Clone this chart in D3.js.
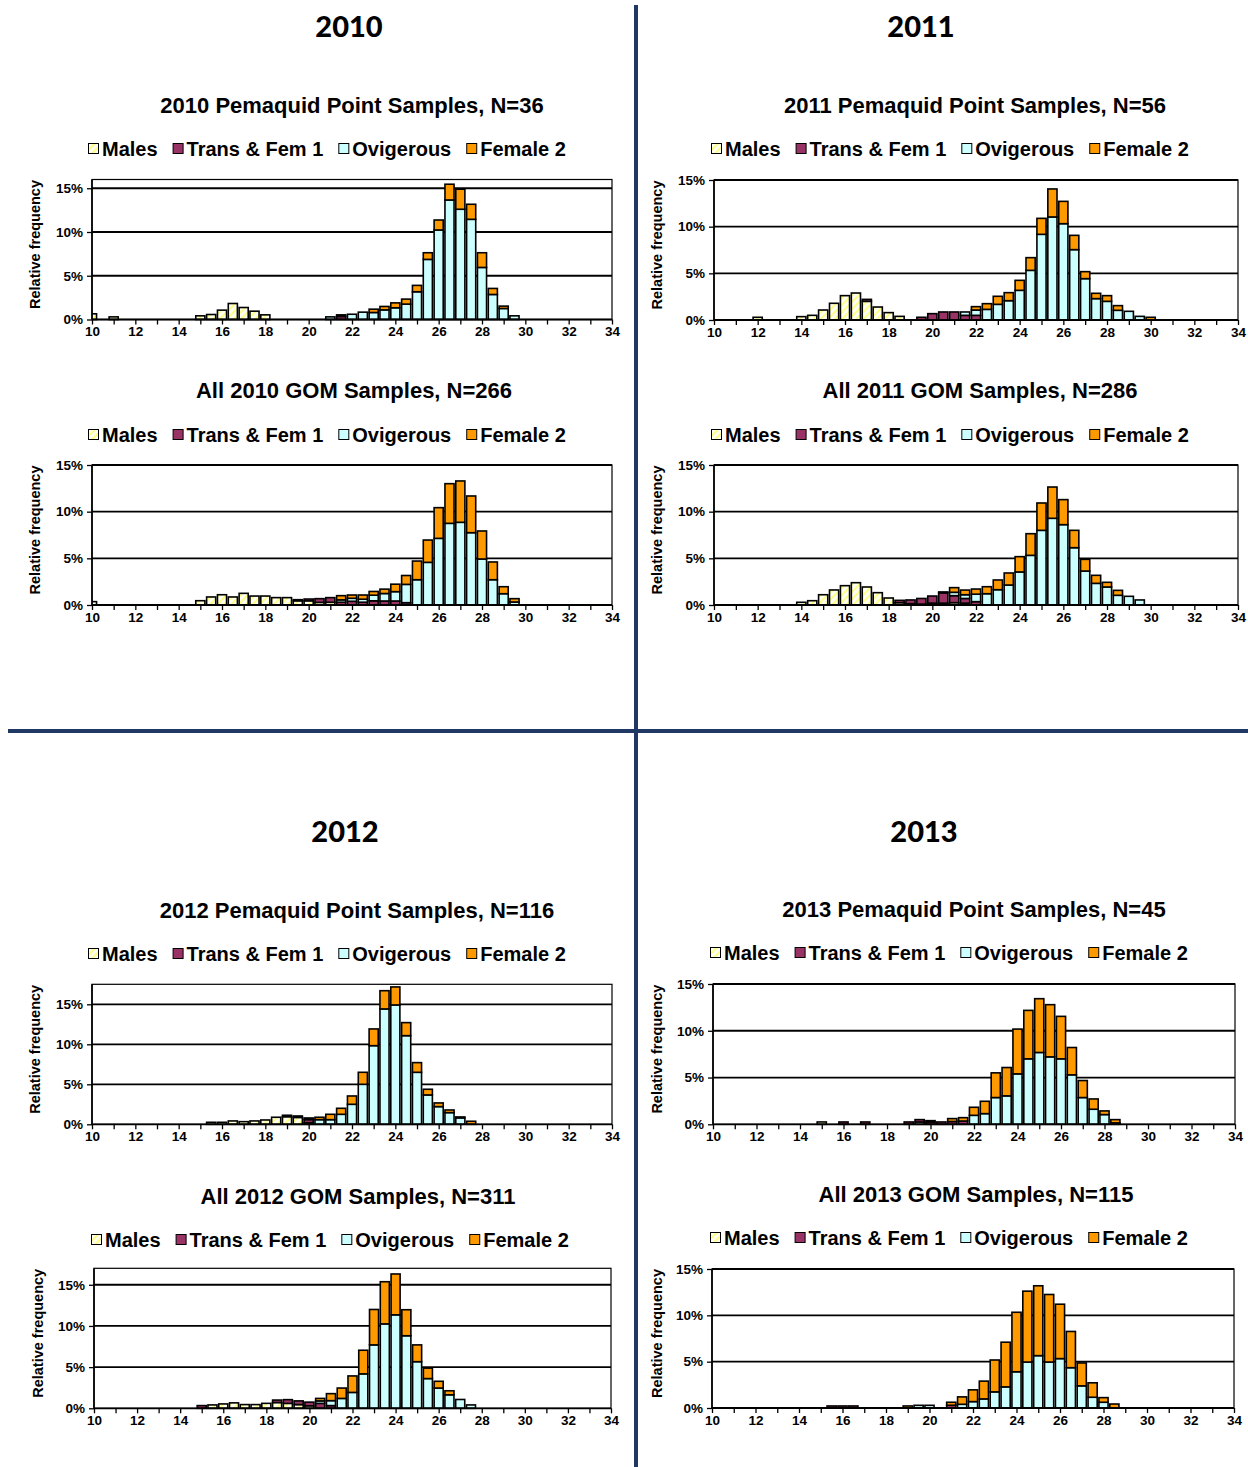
<!DOCTYPE html>
<html>
<head>
<meta charset="utf-8">
<script src="https://cdn.jsdelivr.net/npm/d3@7"></script>
<style>
  body { margin: 0; background: #fff; }
  svg { display: block; }
</style>
</head>
<body>
<svg id="fig" width="1248" height="1467"></svg>
<script>
// Carapace-length bins (mm) with relative frequency (%) per stage:
// each row is [length, Males, Trans & Fem 1, Ovigerous, Female 2]
const seriesNames = ["Males", "Trans & Fem 1", "Ovigerous", "Female 2"];
const xTickLabels = [10, 12, 14, 16, 18, 20, 22, 24, 26, 28, 30, 32, 34];
const yTickValues = [0, 5, 10, 15];
const yearLabels = ["2010", "2011", "2012", "2013"];

const pp2010 = [
  [10, 0.65, 0, 0, 0], [11, 0.3, 0, 0, 0],
  [15, 0.42, 0, 0, 0], [15.5, 0.57, 0, 0, 0], [16, 1.07, 0, 0, 0], [16.5, 1.83, 0, 0, 0],
  [17, 1.37, 0, 0, 0], [17.5, 0.95, 0, 0, 0], [18, 0.53, 0, 0, 0],
  [21, 0, 0, 0.3, 0], [21.5, 0, 0.35, 0.18, 0], [22, 0, 0, 0.6, 0], [22.5, 0, 0, 0.84, 0],
  [23, 0, 0, 0.8, 0.38], [23.5, 0, 0, 1.1, 0.39], [24, 0, 0, 1.34, 0.56], [24.5, 0, 0, 1.76, 0.57],
  [25, 0, 0, 3.17, 0.73], [25.5, 0, 0, 6.87, 0.76], [26, 0, 0, 10.23, 1.14], [26.5, 0, 0, 13.66, 1.8],
  [27, 0, 0, 12.6, 2.29], [27.5, 0, 0, 11.45, 1.72], [28, 0, 0, 5.95, 1.68], [28.5, 0, 0, 2.86, 0.69],
  [29, 0, 0, 1.26, 0.27], [29.5, 0, 0, 0.42, 0]
];

const gom2010 = [
  [10, 0.36, 0, 0, 0],
  [15, 0.46, 0, 0, 0], [15.5, 0.86, 0, 0, 0], [16, 1.1, 0, 0, 0], [16.5, 0.86, 0, 0, 0],
  [17, 1.25, 0, 0, 0], [17.5, 0.96, 0, 0, 0], [18, 0.96, 0, 0, 0], [18.5, 0.79, 0, 0, 0],
  [19, 0.79, 0, 0, 0], [19.5, 0.45, 0.12, 0, 0], [20, 0.45, 0.19, 0, 0], [20.5, 0.28, 0.4, 0, 0],
  [21, 0.29, 0.5, 0, 0], [21.5, 0, 0.3, 0.25, 0.45], [22, 0, 0.4, 0.32, 0.35], [22.5, 0, 0.3, 0.32, 0.45],
  [23, 0, 0.45, 0.6, 0.4], [23.5, 0, 0.43, 0.8, 0.47], [24, 0, 0.43, 1.0, 0.8], [24.5, 0, 0.25, 1.96, 0.95],
  [25, 0, 0, 2.71, 2.0], [25.5, 0, 0, 4.57, 2.39], [26, 0, 0, 7.14, 3.29], [26.5, 0, 0, 8.75, 4.25],
  [27, 0, 0, 8.86, 4.43], [27.5, 0, 0, 7.75, 3.93], [28, 0, 0, 4.93, 3.0], [28.5, 0, 0, 2.71, 1.9],
  [29, 0, 0, 1.21, 0.75], [29.5, 0, 0, 0.32, 0.36]
];

const pp2011 = [
  [12, 0.29, 0, 0, 0],
  [14, 0.36, 0, 0, 0], [14.5, 0.5, 0, 0, 0], [15, 1.07, 0, 0, 0], [15.5, 1.79, 0, 0, 0],
  [16, 2.61, 0, 0, 0], [16.5, 2.89, 0, 0, 0], [17, 2.0, 0.21, 0, 0], [17.5, 1.39, 0, 0, 0],
  [18, 0.79, 0, 0, 0], [18.5, 0.39, 0, 0, 0],
  [19.5, 0, 0.29, 0, 0], [20, 0, 0.68, 0, 0], [20.5, 0, 0.86, 0, 0], [21, 0, 0.86, 0, 0],
  [21.5, 0, 0.5, 0.36, 0], [22, 0, 0.5, 0.57, 0.36], [22.5, 0, 0, 1.14, 0.61], [23, 0, 0, 1.68, 0.86],
  [23.5, 0, 0, 2.07, 0.86], [24, 0, 0, 3.18, 1.07], [24.5, 0, 0, 5.32, 1.36], [25, 0, 0, 9.18, 1.71],
  [25.5, 0, 0, 11.04, 3.0], [26, 0, 0, 10.32, 2.39], [26.5, 0, 0, 7.54, 1.53], [27, 0, 0, 4.43, 0.75],
  [27.5, 0, 0, 2.29, 0.57], [28, 0, 0, 2.0, 0.61], [28.5, 0, 0, 1.04, 0.5], [29, 0, 0, 0.93, 0],
  [29.5, 0, 0, 0.39, 0], [30, 0, 0, 0, 0.29]
];

const gom2011 = [
  [14, 0.29, 0, 0, 0], [14.5, 0.46, 0, 0, 0], [15, 1.1, 0, 0, 0], [15.5, 1.61, 0, 0, 0],
  [16, 2.07, 0, 0, 0], [16.5, 2.39, 0, 0, 0], [17, 1.93, 0, 0, 0], [17.5, 1.32, 0, 0, 0],
  [18, 0.75, 0, 0, 0], [18.5, 0.25, 0.25, 0, 0], [19, 0.14, 0.4, 0, 0], [19.5, 0.1, 0.6, 0, 0],
  [20, 0.2, 0.76, 0, 0], [20.5, 0.2, 1.1, 0.1, 0], [21, 0.25, 0.75, 0.36, 0.5], [21.5, 0.2, 0.5, 0.4, 0.5],
  [22, 0, 0.36, 0.8, 0.55], [22.5, 0, 0, 1.21, 0.75], [23, 0, 0, 1.64, 1.04], [23.5, 0, 0, 2.14, 1.29],
  [24, 0, 0, 3.54, 1.64], [24.5, 0, 0, 5.32, 2.32], [25, 0, 0, 8.0, 2.93], [25.5, 0, 0, 9.29, 3.35],
  [26, 0, 0, 8.61, 2.68], [26.5, 0, 0, 6.14, 1.86], [27, 0, 0, 3.64, 1.25], [27.5, 0, 0, 2.32, 0.86],
  [28, 0, 0, 1.93, 0.5], [28.5, 0, 0, 1.04, 0.53], [29, 0, 0, 0.93, 0], [29.5, 0, 0, 0.54, 0]
];

const pp2012 = [
  [15.5, 0.25, 0, 0, 0], [16, 0.25, 0, 0, 0], [16.5, 0.42, 0, 0, 0], [17, 0.33, 0, 0, 0],
  [17.5, 0.42, 0, 0, 0], [18, 0.54, 0, 0, 0], [18.5, 0.88, 0, 0, 0], [19, 0.95, 0.18, 0, 0],
  [19.5, 0.86, 0.18, 0, 0], [20, 0.2, 0.39, 0.2, 0], [20.5, 0, 0, 0.58, 0.3], [21, 0, 0, 0.58, 0.67],
  [21.5, 0, 0, 1.25, 0.75], [22, 0, 0, 2.5, 1.04], [22.5, 0, 0, 5.0, 1.5], [23, 0, 0, 9.83, 2.09],
  [23.5, 0, 0, 14.42, 2.28], [24, 0, 0, 14.92, 2.25], [24.5, 0, 0, 11.08, 1.63], [25, 0, 0, 6.5, 1.21],
  [25.5, 0, 0, 3.67, 0.71], [26, 0, 0, 2.21, 0.46], [26.5, 0, 0, 1.46, 0.33], [27, 0, 0, 0.8, 0.12],
  [27.5, 0, 0, 0, 0.38]
];

const gom2012 = [
  [15, 0, 0.33, 0, 0], [15.5, 0.41, 0, 0, 0], [16, 0.53, 0, 0, 0], [16.5, 0.66, 0, 0, 0],
  [17, 0.45, 0, 0, 0], [17.5, 0.45, 0, 0, 0], [18, 0.6, 0, 0, 0], [18.5, 0.7, 0.3, 0, 0],
  [19, 0.6, 0.45, 0, 0], [19.5, 0.45, 0.45, 0, 0], [20, 0.3, 0.45, 0, 0], [20.5, 0, 0.6, 0.3, 0.3],
  [21, 0, 0.33, 0.6, 0.85], [21.5, 0, 0, 1.2, 1.26], [22, 0, 0, 1.93, 2.0], [22.5, 0, 0, 4.18, 2.87],
  [23, 0, 0, 7.7, 4.3], [23.5, 0, 0, 10.25, 5.12], [24, 0, 0, 11.35, 4.96], [24.5, 0, 0, 8.81, 3.16],
  [25, 0, 0, 5.66, 2.04], [25.5, 0, 0, 3.61, 1.27], [26, 0, 0, 2.46, 0.82], [26.5, 0, 0, 1.64, 0.49],
  [27, 0, 0, 1.07, 0], [27.5, 0, 0, 0.41, 0]
];

const pp2013 = [
  [15, 0.25, 0, 0, 0], [16, 0, 0.25, 0, 0], [17, 0, 0.25, 0, 0],
  [19, 0, 0.25, 0, 0], [19.5, 0.25, 0.25, 0, 0], [20, 0, 0.25, 0.14, 0], [20.5, 0, 0.25, 0, 0],
  [21, 0, 0.3, 0, 0.31], [21.5, 0, 0.35, 0, 0.36], [22, 0, 0, 0.96, 0.86], [22.5, 0, 0, 1.14, 1.32],
  [23, 0, 0, 2.86, 2.64], [23.5, 0, 0, 3.04, 3.03], [24, 0, 0, 5.39, 4.79], [24.5, 0, 0, 7.0, 5.18],
  [25, 0, 0, 7.68, 5.75], [25.5, 0, 0, 7.21, 5.58], [26, 0, 0, 7.0, 4.54], [26.5, 0, 0, 5.29, 2.92],
  [27, 0, 0, 2.86, 1.82], [27.5, 0, 0, 1.61, 1.1], [28, 0, 0, 1.04, 0.39], [28.5, 0, 0, 0.15, 0.35]
];

const gom2013 = [
  [15.5, 0, 0.22, 0, 0], [16, 0, 0.22, 0, 0], [16.5, 0, 0.22, 0, 0],
  [19, 0, 0, 0, 0.22], [19.5, 0, 0, 0.29, 0], [20, 0, 0, 0.29, 0],
  [21, 0, 0.3, 0, 0.32], [21.5, 0, 0, 0.4, 0.8], [22, 0, 0, 0.69, 1.27], [22.5, 0, 0, 0.98, 1.92],
  [23, 0, 0, 1.74, 3.44], [23.5, 0, 0, 2.28, 4.82], [24, 0, 0, 3.91, 6.42], [24.5, 0, 0, 4.96, 7.65],
  [25, 0, 0, 5.65, 7.54], [25.5, 0, 0, 4.96, 7.29], [26, 0, 0, 5.33, 5.87], [26.5, 0, 0, 4.35, 3.91],
  [27, 0, 0, 2.39, 2.47], [27.5, 0, 0, 1.16, 1.56], [28, 0, 0, 0.62, 0.5], [28.5, 0, 0, 0, 0.43]
];

// Panel layout: pixel frame of each plot area and where its title/legend sit
const panels = [
  { data: pp2010,  title: "2010 Pemaquid Point Samples, N=36",  yMax: 16,   x0: 92,  x1: 612,  top: 179.5,  bottom: 319.5,  tx: 352, ty: 105,  lx: 88,  ly: 149,  yl: 35 },
  { data: gom2010, title: "All 2010 GOM Samples, N=266",        yMax: 15,   x0: 92,  x1: 612,  top: 465,    bottom: 605,    tx: 354, ty: 390,  lx: 88,  ly: 435,  yl: 35 },
  { data: pp2011,  title: "2011 Pemaquid Point Samples, N=56",  yMax: 15,   x0: 714, x1: 1238, top: 180,    bottom: 320,    tx: 975, ty: 105,  lx: 711, ly: 149,  yl: 657 },
  { data: gom2011, title: "All 2011 GOM Samples, N=286",        yMax: 15,   x0: 714, x1: 1238, top: 465,    bottom: 605,    tx: 980, ty: 390,  lx: 711, ly: 435,  yl: 657 },
  { data: pp2012,  title: "2012 Pemaquid Point Samples, N=116", yMax: 17.5, x0: 92,  x1: 612,  top: 984.3,  bottom: 1124.3, tx: 357, ty: 910,  lx: 88,  ly: 954,  yl: 35 },
  { data: gom2012, title: "All 2012 GOM Samples, N=311",        yMax: 17,   x0: 94,  x1: 611,  top: 1268.3, bottom: 1408.3, tx: 358, ty: 1196, lx: 91,  ly: 1240, yl: 38 },
  { data: pp2013,  title: "2013 Pemaquid Point Samples, N=45",  yMax: 15,   x0: 713, x1: 1235, top: 984,    bottom: 1124.3, tx: 974, ty: 909,  lx: 710, ly: 953,  yl: 657 },
  { data: gom2013, title: "All 2013 GOM Samples, N=115",        yMax: 15,   x0: 712, x1: 1234, top: 1269,   bottom: 1408,   tx: 976, ty: 1194, lx: 710, ly: 1238, yl: 657 }
];

const yearPos = [[349, 37], [921, 37], [345, 842], [924, 842]];

const FONT = "'Liberation Sans', Arial, sans-serif";
const keys = ["m", "t", "o", "f"];
const binWidth = 0.42;

const svg = d3.select("#fig");
const defs = svg.append("defs");

// light yellow diagonal hatch for the Males stage
const hatch = defs.append("pattern")
  .attr("id", "maleHatch")
  .attr("patternUnits", "userSpaceOnUse")
  .attr("width", 5).attr("height", 5)
  .attr("patternTransform", "rotate(45)");
hatch.append("rect").attr("width", 5).attr("height", 5).attr("fill", "#FFFFF2");
hatch.append("rect").attr("width", 2).attr("height", 5).attr("fill", "#FFFF88");

const fills = ["url(#maleHatch)", "#993366", "#CCFFFF", "#FF9900"];

// quadrant dividers
svg.append("line").attr("x1", 636).attr("x2", 636).attr("y1", 5).attr("y2", 1467)
  .attr("stroke", "#1F3864").attr("stroke-width", 4);
svg.append("line").attr("x1", 8).attr("x2", 1248).attr("y1", 731).attr("y2", 731)
  .attr("stroke", "#1F3864").attr("stroke-width", 4);

// year headings
svg.selectAll("text.year").data(yearLabels).join("text")
  .attr("class", "year")
  .attr("x", (d, i) => yearPos[i][0])
  .attr("y", (d, i) => yearPos[i][1])
  .attr("text-anchor", "middle")
  .attr("font-family", "Lato, 'Open Sans', sans-serif")
  .attr("font-weight", 900)
  .attr("font-size", 29)
  .text(d => d);

panels.forEach((p, i) => {
  const g = svg.append("g");
  const x = d3.scaleLinear().domain([10, 34]).range([p.x0, p.x1]);
  const y = d3.scaleLinear().domain([0, p.yMax]).range([p.bottom, p.top]);

  // title
  g.append("text")
    .attr("x", p.tx).attr("y", p.ty + 8)
    .attr("text-anchor", "middle")
    .attr("font-family", FONT).attr("font-weight", 700).attr("font-size", 22)
    .text(p.title);

  // legend
  const leg = g.append("g").attr("transform", `translate(${p.lx},${p.ly})`);
  let cx = 0;
  seriesNames.forEach((name, k) => {
    leg.append("rect")
      .attr("x", cx + 0.5).attr("y", -5.5)
      .attr("width", 10).attr("height", 10)
      .attr("fill", fills[k]).attr("stroke", "#000").attr("stroke-width", 1);
    const t = leg.append("text")
      .attr("x", cx + 14).attr("y", 7)
      .attr("font-family", FONT).attr("font-weight", 700).attr("font-size", 20)
      .text(name);
    cx += 14 + t.node().getComputedTextLength() + 15;
  });

  // horizontal gridlines
  g.selectAll("line.grid").data(yTickValues.filter(v => v > 0 && v <= p.yMax)).join("line")
    .attr("class", "grid")
    .attr("x1", p.x0).attr("x2", p.x1)
    .attr("y1", d => y(d)).attr("y2", d => y(d))
    .attr("stroke", "#000").attr("stroke-width", 1.8);

  // stacked bars
  const rows = p.data.map(r => ({ len: r[0], m: r[1], t: r[2], o: r[3], f: r[4] }));
  const stacked = d3.stack().keys(keys)(rows);
  const clipId = "plotClip" + i;
  defs.append("clipPath").attr("id", clipId).append("rect")
    .attr("x", p.x0).attr("y", p.top - 3)
    .attr("width", p.x1 - p.x0).attr("height", p.bottom - p.top + 6);
  const barsG = g.append("g").attr("clip-path", `url(#${clipId})`);
  const bw = x(10 + binWidth) - x(10);
  stacked.forEach((layer, k) => {
    barsG.append("g").selectAll("rect")
      .data(layer.filter(d => d[1] - d[0] > 0))
      .join("rect")
      .attr("x", d => x(d.data.len) - bw / 2)
      .attr("width", bw)
      .attr("y", d => y(d[1]))
      .attr("height", d => y(d[0]) - y(d[1]))
      .attr("fill", fills[k])
      .attr("stroke", "#000")
      .attr("stroke-width", 1.6);
  });

  // plot frame
  g.append("rect")
    .attr("x", p.x0).attr("y", p.top)
    .attr("width", p.x1 - p.x0).attr("height", p.bottom - p.top)
    .attr("fill", "none").attr("stroke", "#000").attr("stroke-width", 1.2);

  // y axis
  const yAxis = d3.axisLeft(y).tickValues(yTickValues.filter(v => v <= p.yMax))
    .tickFormat(d => d + "%").tickSize(5).tickPadding(4);
  const ya = g.append("g").attr("transform", `translate(${p.x0},0)`).call(yAxis);
  ya.select(".domain").attr("stroke-width", 1.6).attr("d", `M0,${p.top}V${p.bottom}`);
  ya.selectAll(".tick line").attr("stroke-width", 1.3);
  ya.selectAll("text").attr("font-family", FONT).attr("font-weight", 700).attr("font-size", 13.5).attr("fill", "#000");

  // x axis: minor ticks every mm, labels every 2 mm
  const xAxis = d3.axisBottom(x).tickValues(d3.range(10, 35))
    .tickFormat(d => xTickLabels.includes(d) ? d : "").tickSize(5).tickPadding(2);
  const xa = g.append("g").attr("transform", `translate(0,${p.bottom})`).call(xAxis);
  xa.select(".domain").attr("stroke-width", 1.8).attr("d", `M${p.x0},0H${p.x1}`);
  xa.selectAll(".tick line").attr("stroke-width", 1.3);
  xa.selectAll("text").attr("font-family", FONT).attr("font-weight", 700).attr("font-size", 13.5).attr("fill", "#000");

  // y axis title
  const midY = (p.top + p.bottom) / 2 - 5;
  g.append("text")
    .attr("transform", `translate(${p.yl + 5},${midY}) rotate(-90)`)
    .attr("text-anchor", "middle")
    .attr("font-family", FONT).attr("font-weight", 700).attr("font-size", 14.5)
    .text("Relative frequency");
});
</script>
</body>
</html>
